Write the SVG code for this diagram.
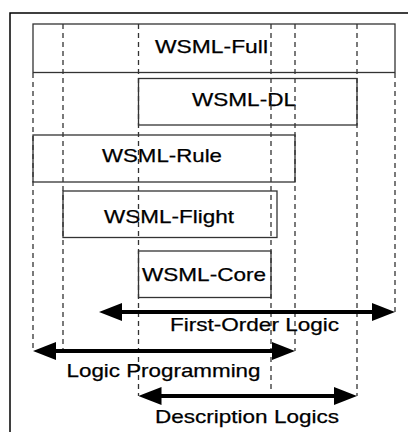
<svg xmlns="http://www.w3.org/2000/svg" width="408" height="432" viewBox="0 0 408 432">
  <style>
    .frame { fill: none; stroke: #000; stroke-width: 1.5; }
    .box { fill: #fff; stroke: #333; stroke-width: 1.3; }
    .guide { fill: none; stroke: #333; stroke-width: 1.3; stroke-dasharray: 5 4; }
    .arrow { fill: none; stroke: #000; stroke-width: 4; marker-start: url(#head); marker-end: url(#head); }
    .label { font-family: "Liberation Sans", Arial, sans-serif; font-size: 19px; fill: #000; stroke: #000; stroke-width: 0.25; }
  </style>
  <defs>
    <marker id="head" markerUnits="userSpaceOnUse" markerWidth="23" markerHeight="18" refX="13" refY="9" orient="auto-start-reverse">
      <path d="M0,0 L23,9 L0,18 Z" fill="#000"/>
    </marker>
  </defs>

  <rect width="408" height="432" fill="#fff"/>
  <path class="frame" d="M10,440 V13 H420"/>

  <g id="wsml-full">
    <rect class="box" x="33" y="24" width="362" height="48.5"/>
    <text class="label" x="155" y="53" textLength="113" lengthAdjust="spacingAndGlyphs">WSML-Full</text>
  </g>
  <g id="wsml-dl">
    <rect class="box" x="138.5" y="78.5" width="218.5" height="46.5"/>
    <text class="label" x="192" y="106" textLength="104" lengthAdjust="spacingAndGlyphs">WSML-DL</text>
  </g>
  <g id="wsml-rule">
    <rect class="box" x="33" y="135" width="262" height="47"/>
    <text class="label" x="102" y="162" textLength="120" lengthAdjust="spacingAndGlyphs">WSML-Rule</text>
  </g>
  <g id="wsml-flight">
    <rect class="box" x="63" y="191" width="214" height="46.5"/>
    <text class="label" x="104" y="223" textLength="130" lengthAdjust="spacingAndGlyphs">WSML-Flight</text>
  </g>
  <g id="wsml-core">
    <rect class="box" x="138.5" y="251" width="132.5" height="46.5"/>
    <text class="label" x="142" y="281" textLength="124" lengthAdjust="spacingAndGlyphs">WSML-Core</text>
  </g>

  <g id="connectors">
    <!-- dashed extent guides -->
    <line class="guide" x1="33" y1="73" x2="33" y2="351"/>
    <line class="guide" x1="63" y1="24" x2="63" y2="351"/>
    <line class="guide" x1="138.5" y1="24" x2="138.5" y2="396"/>
    <line class="guide" x1="271" y1="24" x2="271" y2="390"/>
    <line class="guide" x1="295" y1="24" x2="295" y2="351"/>
    <line class="guide" x1="357" y1="24" x2="357" y2="396"/>
    <line class="guide" x1="395" y1="73" x2="395" y2="312"/>

    <!-- double-headed range arrows -->
    <line class="arrow" x1="109" y1="312" x2="385" y2="312"/>
    <line class="arrow" x1="43" y1="351" x2="285" y2="351"/>
    <line class="arrow" x1="148.5" y1="396" x2="347" y2="396"/>
  </g>

  <g id="range-labels">
    <text class="label" x="170" y="331" textLength="169" lengthAdjust="spacingAndGlyphs">First-Order Logic</text>
    <text class="label" x="66.5" y="377" textLength="194" lengthAdjust="spacingAndGlyphs">Logic Programming</text>
    <text class="label" x="155" y="423" textLength="184" lengthAdjust="spacingAndGlyphs">Description Logics</text>
  </g>
</svg>
